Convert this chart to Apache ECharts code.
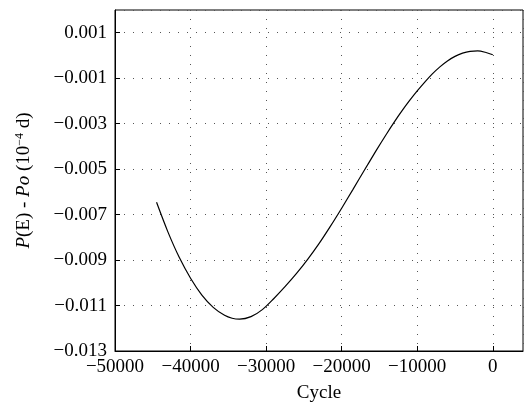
<!DOCTYPE html>
<html>
<head>
<meta charset="utf-8">
<script src="https://cdn.jsdelivr.net/npm/echarts@6/dist/echarts.min.js"></script>
<style>
  html, body { margin: 0; padding: 0; background: #fff; }
  #chart { width: 524px; height: 417px; }
</style>
</head>
<body>
<div id="chart"></div>
<script>
// O-C 曲线数据
var cycles = [-44500, -43000, -41500, -40000, -38500, -37000, -35500, -34500, -33500, -32000,
  -30500, -29000, -27500, -26000, -24500, -23000, -21500, -20000, -18500, -17000,
  -15500, -14000, -13000, -12000, -11000, -10000, -9000, -8000, -7000, -6000,
  -5000, -4000, -3000, -2000, -1000, 0];
var diffs = [-0.00646, -0.00776, -0.00888, -0.0098, -0.01054, -0.01108, -0.01143, -0.01156, -0.0116, -0.01149,
  -0.01118, -0.0107, -0.01017, -0.0096, -0.00897, -0.00828, -0.00752, -0.00672, -0.00589, -0.00505,
  -0.00422, -0.00342, -0.00291, -0.00243, -0.00198, -0.00156, -0.00117, -0.00081, -0.0005, -0.00024,
  -0.00004, 0.0001, 0.00018, 0.0002, 0.00014, 0.00003];

var font = 'Liberation Serif';

function minus (s) {
  return String(s).replace('-', '\u2212');
}

const myChart = echarts.init(document.getElementById('chart'));
const option = {
  animation: false,
  grid: {
    left: 115,
    right: 1,
    top: 10,
    bottom: 66,
    show: true,
    borderColor: '#000',
    borderWidth: 1
  },
  xAxis: {
    type: 'value',
    min: -50000,
    max: 4000,
    interval: 10000,
    name: 'Cycle',
    nameLocation: 'middle',
    nameGap: 33,
    nameTextStyle: { fontFamily: font, fontSize: 19, color: '#000' },
    axisLine: { show: true, onZero: false, lineStyle: { color: '#000', width: 1 } },
    axisTick: { show: true, inside: true, length: 5, lineStyle: { color: '#000' } },
    axisLabel: {
      showMaxLabel: false,
      margin: 7,
      fontFamily: font,
      fontSize: 19,
      color: '#000',
      formatter: function (v) { return minus(v); }
    },
    splitLine: { show: true, lineStyle: { color: '#555', type: [1, 8], width: 1 } }
  },
  yAxis: {
    type: 'value',
    min: -0.013,
    max: 0.002,
    interval: 0.002,
    name: '{i|P}{n|(E) - }{i|Po}{n| (10}{s|\u22124}{n| d)}',
    nameLocation: 'middle',
    nameGap: 81,
    nameRotate: 90,
    nameTextStyle: {
      fontFamily: font,
      fontSize: 19,
      color: '#000',
      rich: {
        i: { fontFamily: font, fontSize: 19, fontStyle: 'italic', color: '#000' },
        n: { fontFamily: font, fontSize: 19, color: '#000' },
        s: { fontFamily: font, fontSize: 12, color: '#000', padding: [0, 0, 8, 0] }
      }
    },
    axisLine: { show: true, onZero: false, lineStyle: { color: '#000', width: 1 } },
    axisTick: { show: true, inside: true, length: 5, lineStyle: { color: '#000' } },
    axisLabel: {
      showMaxLabel: false,
      margin: 8,
      fontFamily: font,
      fontSize: 19,
      color: '#000',
      formatter: function (v) { return minus(v.toFixed(3)); }
    },
    splitLine: { show: true, lineStyle: { color: '#555', type: [1, 8], width: 1 } }
  },
  series: [{
    type: 'line',
    data: cycles.map(function (c, i) { return [c, diffs[i]]; }),
    smooth: 0.3,
    showSymbol: false,
    lineStyle: { color: '#000', width: 1.2 }
  }]
};
myChart.setOption(option);
window.addEventListener('resize', function () {
  myChart.resize();
});
</script>
</body>
</html>
